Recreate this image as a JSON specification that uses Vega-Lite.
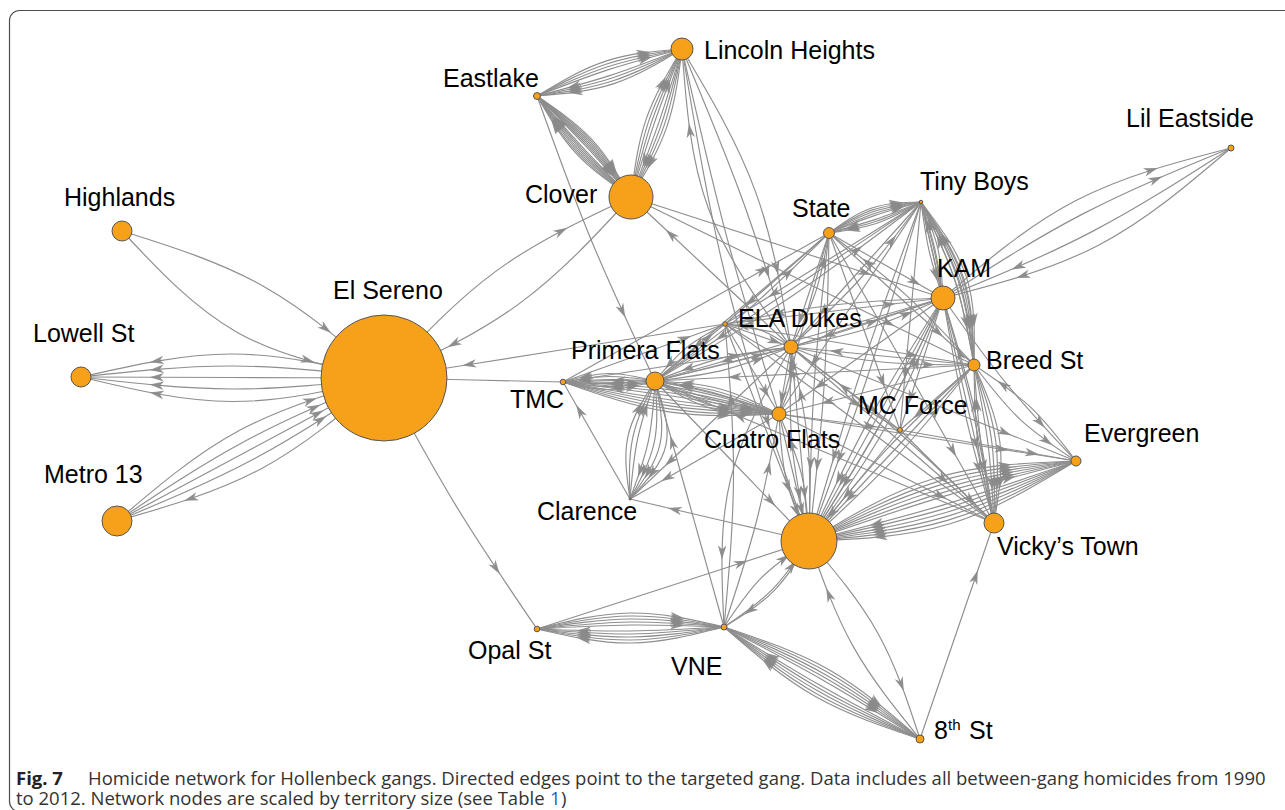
{
  "$schema": "https://vega.github.io/schema/vega-lite/v6.json",
  "width": 1285,
  "height": 810,
  "padding": 0,
  "autosize": {"type": "none"},
  "background": "white",
  "config": {"view": {"stroke": null}},
  "datasets": {
    "nodes": [
      {"id":"EL","x":384,"y":378,"area":3969},
      {"id":"BG","x":809,"y":541,"area":784},
      {"id":"CL","x":631,"y":197,"area":484},
      {"id":"ME","x":117,"y":521,"area":225},
      {"id":"KA","x":943,"y":298,"area":144},
      {"id":"LH","x":682,"y":49,"area":121},
      {"id":"HI","x":122,"y":231,"area":100},
      {"id":"LO","x":81,"y":377,"area":100},
      {"id":"VT","x":994,"y":523,"area":100},
      {"id":"PF","x":655,"y":381,"area":81},
      {"id":"ED","x":791,"y":347,"area":49},
      {"id":"CF","x":779,"y":414,"area":49},
      {"id":"BR","x":974,"y":365,"area":36},
      {"id":"ST","x":829,"y":233,"area":30},
      {"id":"EV","x":1076,"y":461,"area":25},
      {"id":"E8","x":920,"y":739,"area":16},
      {"id":"EA","x":537,"y":96,"area":12},
      {"id":"LE","x":1231,"y":148,"area":9},
      {"id":"TM","x":563,"y":382,"area":8},
      {"id":"VN","x":724,"y":627,"area":9},
      {"id":"OP","x":537,"y":629,"area":8},
      {"id":"MC","x":900,"y":430,"area":6},
      {"id":"U1","x":725,"y":324,"area":5},
      {"id":"TB","x":921,"y":202,"area":3},
      {"id":"CA","x":630,"y":499,"area":1}
    ],
    "labels": [
      {"label":"Lincoln Heights","lx":704,"ly":59},
      {"label":"Eastlake","lx":443,"ly":87},
      {"label":"Clover","lx":525,"ly":203},
      {"label":"Highlands","lx":64,"ly":206},
      {"label":"El Sereno","lx":333,"ly":299},
      {"label":"Lowell St","lx":33,"ly":342},
      {"label":"Metro 13","lx":44,"ly":483},
      {"label":"Lil Eastside","lx":1126,"ly":127},
      {"label":"Tiny Boys","lx":920,"ly":190},
      {"label":"State","lx":792,"ly":217},
      {"label":"KAM","lx":937,"ly":277},
      {"label":"ELA Dukes","lx":738,"ly":327},
      {"label":"Primera Flats","lx":571,"ly":359},
      {"label":"Breed St","lx":986,"ly":369},
      {"label":"TMC","lx":510,"ly":408},
      {"label":"MC Force","lx":858,"ly":414},
      {"label":"Cuatro Flats","lx":704,"ly":448},
      {"label":"Evergreen","lx":1084,"ly":442},
      {"label":"Clarence","lx":537,"ly":520},
      {"label":"Vicky’s Town","lx":997,"ly":555},
      {"label":"Opal St","lx":468,"ly":659},
      {"label":"VNE","lx":671,"ly":675},
      {"label":"8","lx":934,"ly":739},
      {"label":"St","lx":969,"ly":739}
    ],
    "edges": [
      {"s":"HI","t":"EL","o":-21},{"s":"HI","t":"EL","o":32},
      {"s":"EL","t":"LO","o":23.5},{"s":"EL","t":"LO","o":11.5},{"s":"EL","t":"LO","o":0},{"s":"EL","t":"LO","o":-11.5},{"s":"EL","t":"LO","o":-24},
      {"s":"ME","t":"EL","o":-22},{"s":"ME","t":"EL","o":-10},{"s":"ME","t":"EL","o":0},{"s":"ME","t":"EL","o":10},{"s":"EL","t":"ME","o":-22},
      {"s":"EL","t":"CL","o":-20},{"s":"CL","t":"EL","o":-20},
      {"s":"EL","t":"OP","o":5},{"s":"TM","t":"EL","o":0},{"s":"U1","t":"EL","o":0},
      {"s":"EA","t":"LH","o":-3},{"s":"EA","t":"LH","o":-6},{"s":"EA","t":"LH","o":-9},{"s":"EA","t":"LH","o":-12},
      {"s":"LH","t":"EA","o":-3},{"s":"LH","t":"EA","o":-6},{"s":"LH","t":"EA","o":-9},{"s":"LH","t":"EA","o":-12},
      {"s":"EA","t":"CL","o":-1.5},{"s":"EA","t":"CL","o":-3},{"s":"EA","t":"CL","o":-4.5},{"s":"EA","t":"CL","o":-6},{"s":"EA","t":"CL","o":-7.5},{"s":"EA","t":"CL","o":-9},{"s":"EA","t":"CL","o":-10.5},
      {"s":"CL","t":"EA","o":-1.5},{"s":"CL","t":"EA","o":-3},{"s":"CL","t":"EA","o":-4.5},{"s":"CL","t":"EA","o":-6},{"s":"CL","t":"EA","o":-7.5},{"s":"CL","t":"EA","o":-9},{"s":"CL","t":"EA","o":-10.5},
      {"s":"CL","t":"LH","o":-2},{"s":"CL","t":"LH","o":-5},{"s":"CL","t":"LH","o":-8},{"s":"CL","t":"LH","o":-11},
      {"s":"LH","t":"CL","o":-2},{"s":"LH","t":"CL","o":-5},{"s":"LH","t":"CL","o":-8},{"s":"LH","t":"CL","o":-11},
      {"s":"ED","t":"LH","o":-30},{"s":"LH","t":"ED","o":-5},{"s":"LH","t":"ED","o":-20},{"s":"LH","t":"CF","o":5},{"s":"LH","t":"BG","o":15},
      {"s":"EA","t":"PF","o":5},{"s":"CL","t":"KA","o":0},{"s":"CL","t":"BR","o":0},{"s":"ED","t":"CL","o":0},
      {"s":"KA","t":"LE","o":-10},{"s":"KA","t":"LE","o":-25},{"s":"LE","t":"KA","o":-10},{"s":"LE","t":"KA","o":-25},
      {"s":"ST","t":"TB","o":-2},{"s":"ST","t":"TB","o":-4},{"s":"ST","t":"TB","o":-6},{"s":"ST","t":"TB","o":-8},{"s":"ST","t":"TB","o":-10},
      {"s":"TB","t":"ST","o":-2},{"s":"TB","t":"ST","o":-4},{"s":"TB","t":"ST","o":-6},
      {"s":"TB","t":"KA","o":-3},{"s":"TB","t":"KA","o":0},{"s":"TB","t":"KA","o":3},{"s":"KA","t":"TB","o":2},{"s":"KA","t":"TB","o":6},
      {"s":"TB","t":"BR","o":-8},{"s":"TB","t":"BR","o":-11},{"s":"TB","t":"BR","o":-14},{"s":"TB","t":"BR","o":-17},{"s":"TB","t":"BR","o":-20},
      {"s":"BR","t":"TB","o":8},{"s":"BR","t":"TB","o":12},{"s":"BR","t":"TB","o":16},
      {"s":"ST","t":"PF","o":0},{"s":"PF","t":"ST","o":6},{"s":"ST","t":"U1","o":0},{"s":"ST","t":"ED","o":0},{"s":"ED","t":"ST","o":6},{"s":"ST","t":"CF","o":0},
      {"s":"ST","t":"BG","o":5},{"s":"ST","t":"BG","o":-5},{"s":"ST","t":"KA","o":0},{"s":"ST","t":"BR","o":0},{"s":"BR","t":"ST","o":6},{"s":"ST","t":"MC","o":0},{"s":"ST","t":"VT","o":0},
      {"s":"TB","t":"ED","o":0},{"s":"TB","t":"CF","o":0},{"s":"TB","t":"BG","o":4},{"s":"TB","t":"BG","o":-4},{"s":"TB","t":"MC","o":0},{"s":"TB","t":"PF","o":0},{"s":"TB","t":"U1","o":0},{"s":"TB","t":"VT","o":0},{"s":"ED","t":"TB","o":6},{"s":"PF","t":"TB","o":6},
      {"s":"KA","t":"BG","o":0},{"s":"KA","t":"BG","o":6},{"s":"KA","t":"BG","o":-6},{"s":"BG","t":"KA","o":6},{"s":"BG","t":"KA","o":12},{"s":"KA","t":"ED","o":0},{"s":"ED","t":"KA","o":6},{"s":"KA","t":"CF","o":0},
      {"s":"KA","t":"VT","o":4},{"s":"KA","t":"VT","o":-4},{"s":"VT","t":"KA","o":6},{"s":"KA","t":"MC","o":0},{"s":"KA","t":"EV","o":5},{"s":"KA","t":"PF","o":0},{"s":"PF","t":"KA","o":5},{"s":"U1","t":"KA","o":0},{"s":"KA","t":"U1","o":6},
      {"s":"BR","t":"BG","o":0},{"s":"BR","t":"BG","o":6},{"s":"BG","t":"BR","o":6},{"s":"BR","t":"ED","o":0},{"s":"ED","t":"BR","o":6},{"s":"BR","t":"PF","o":0},{"s":"BR","t":"CF","o":0},{"s":"BR","t":"MC","o":0},{"s":"U1","t":"BR","o":0},{"s":"BR","t":"EV","o":8},{"s":"EV","t":"BR","o":8},
      {"s":"BR","t":"VT","o":-4},{"s":"BR","t":"VT","o":-8},{"s":"BR","t":"VT","o":-12},{"s":"BR","t":"VT","o":-16},{"s":"VT","t":"BR","o":-3},{"s":"VT","t":"BR","o":-6},
      {"s":"BG","t":"EV","o":-4},{"s":"BG","t":"EV","o":-8},{"s":"BG","t":"EV","o":-12},{"s":"BG","t":"EV","o":-16},{"s":"BG","t":"EV","o":-20},{"s":"BG","t":"EV","o":-24},
      {"s":"EV","t":"BG","o":-4},{"s":"EV","t":"BG","o":-8},{"s":"EV","t":"BG","o":-12},{"s":"EV","t":"BG","o":-16},{"s":"EV","t":"BG","o":-20},{"s":"EV","t":"BG","o":-24},
      {"s":"MC","t":"EV","o":0},{"s":"MC","t":"VT","o":0},{"s":"U1","t":"MC","o":0},{"s":"ED","t":"MC","o":0},{"s":"CF","t":"MC","o":0},{"s":"MC","t":"BG","o":0},
      {"s":"U1","t":"ED","o":0},{"s":"ED","t":"U1","o":6},{"s":"U1","t":"CF","o":0},{"s":"U1","t":"BG","o":0},{"s":"PF","t":"U1","o":0},{"s":"U1","t":"PF","o":6},{"s":"TM","t":"U1","o":0},{"s":"TM","t":"ED","o":0},{"s":"TM","t":"ST","o":0},
      {"s":"ED","t":"CF","o":0},{"s":"CF","t":"ED","o":6},{"s":"ED","t":"BG","o":0},{"s":"ED","t":"BG","o":8},{"s":"BG","t":"ED","o":8},{"s":"ED","t":"VT","o":0},{"s":"VT","t":"ED","o":6},{"s":"ED","t":"EV","o":0},
      {"s":"CF","t":"BG","o":0},{"s":"CF","t":"BG","o":8},{"s":"BG","t":"CF","o":8},{"s":"CF","t":"VT","o":0},{"s":"CF","t":"EV","o":0},{"s":"PF","t":"ED","o":0},{"s":"PF","t":"ED","o":6},{"s":"ED","t":"PF","o":6},{"s":"VT","t":"U1","o":0},{"s":"VT","t":"PF","o":0},
      {"s":"VN","t":"E8","o":-3},{"s":"VN","t":"E8","o":-6},{"s":"VN","t":"E8","o":-9},{"s":"VN","t":"E8","o":-12},{"s":"VN","t":"E8","o":-15},
      {"s":"E8","t":"VN","o":-3},{"s":"E8","t":"VN","o":-6},{"s":"E8","t":"VN","o":-9},{"s":"E8","t":"VN","o":-12},{"s":"E8","t":"VN","o":-15},
      {"s":"OP","t":"VN","o":-3},{"s":"OP","t":"VN","o":-6},{"s":"OP","t":"VN","o":-9},{"s":"OP","t":"VN","o":-12},{"s":"OP","t":"VN","o":-15},
      {"s":"VN","t":"OP","o":-3},{"s":"VN","t":"OP","o":-6},{"s":"VN","t":"OP","o":-9},{"s":"VN","t":"OP","o":-12},{"s":"VN","t":"OP","o":-15},
      {"s":"OP","t":"BG","o":0},{"s":"BG","t":"E8","o":-15},{"s":"E8","t":"BG","o":-13},{"s":"E8","t":"VT","o":0},{"s":"VN","t":"BG","o":-8},{"s":"VN","t":"BG","o":8},{"s":"BG","t":"VN","o":-10},{"s":"ED","t":"VN","o":28},{"s":"VN","t":"PF","o":0},{"s":"VN","t":"U1","o":9},{"s":"VN","t":"CF","o":5},
      {"s":"PF","t":"CA","o":-6},{"s":"PF","t":"CA","o":-12},{"s":"PF","t":"CA","o":-18},{"s":"PF","t":"CA","o":-24},{"s":"CA","t":"PF","o":-5},{"s":"CA","t":"PF","o":-10},{"s":"CA","t":"PF","o":-15},
      {"s":"CA","t":"TM","o":0},{"s":"CF","t":"CA","o":0},{"s":"ED","t":"CA","o":0},{"s":"BG","t":"CA","o":0},
      {"s":"TM","t":"CF","o":2},{"s":"TM","t":"CF","o":5},{"s":"TM","t":"CF","o":8},{"s":"TM","t":"CF","o":11},{"s":"TM","t":"CF","o":14},
      {"s":"CF","t":"TM","o":2},{"s":"CF","t":"TM","o":5},{"s":"CF","t":"TM","o":8},{"s":"CF","t":"TM","o":11},{"s":"CF","t":"TM","o":14},
      {"s":"TM","t":"PF","o":2},{"s":"TM","t":"PF","o":5},{"s":"TM","t":"PF","o":8},{"s":"PF","t":"TM","o":2},{"s":"PF","t":"TM","o":5},{"s":"PF","t":"TM","o":8},
      {"s":"PF","t":"CF","o":3},{"s":"PF","t":"CF","o":6},{"s":"PF","t":"CF","o":9},{"s":"PF","t":"CF","o":12},{"s":"CF","t":"PF","o":3},{"s":"CF","t":"PF","o":6},{"s":"CF","t":"PF","o":9},
      {"s":"PF","t":"BG","o":0}
    ]
  },
  "layer": [
    {
      "data": {"values": [{"x0": 9.5, "y0": 10.5, "x1": 1330, "y1": 811.5}]},
      "mark": {"type": "rect", "fill": "transparent", "stroke": "#4d4d4d", "strokeWidth": 1.2, "cornerRadius": 10, "clip": true},
      "encoding": {
        "x": {"field": "x0", "type": "quantitative", "scale": {"domain": [0, 1285], "nice": false, "zero": false}, "axis": null},
        "x2": {"field": "x1"},
        "y": {"field": "y0", "type": "quantitative", "scale": {"domain": [0, 810], "nice": false, "zero": false, "reverse": true}, "axis": null},
        "y2": {"field": "y1"}
      }
    },
    {
      "data": {"name": "edges"},
      "transform": [
        {"lookup": "s", "from": {"data": {"name": "nodes"}, "key": "id", "fields": ["x", "y"]}, "as": ["sx", "sy"]},
        {"lookup": "t", "from": {"data": {"name": "nodes"}, "key": "id", "fields": ["x", "y"]}, "as": ["tx", "ty"]},
        {"calculate": "sqrt(pow(datum.tx-datum.sx,2)+pow(datum.ty-datum.sy,2))", "as": "L"},
        {"calculate": "(datum.sx+datum.tx)/2 - datum.o*(datum.ty-datum.sy)/datum.L", "as": "mx"},
        {"calculate": "(datum.sy+datum.ty)/2 + datum.o*(datum.tx-datum.sx)/datum.L", "as": "my"},
        {"window": [{"op": "row_number", "as": "eid"}]},
        {"calculate": "[datum.sx, datum.mx, datum.tx]", "as": "px"},
        {"calculate": "[datum.sy, datum.my, datum.ty]", "as": "py"},
        {"calculate": "[0, 1, 2]", "as": "pk"},
        {"flatten": ["px", "py", "pk"]}
      ],
      "mark": {"type": "line", "interpolate": "natural", "stroke": "#8e8e8e", "strokeWidth": 1.15},
      "encoding": {
        "x": {"field": "px", "type": "quantitative", "scale": {"domain": [0, 1285], "nice": false, "zero": false}, "axis": null},
        "y": {"field": "py", "type": "quantitative", "scale": {"domain": [0, 810], "nice": false, "zero": false, "reverse": true}, "axis": null},
        "detail": {"field": "eid", "type": "nominal"},
        "order": {"field": "pk", "type": "quantitative"}
      }
    },
    {
      "data": {"name": "edges"},
      "transform": [
        {"lookup": "s", "from": {"data": {"name": "nodes"}, "key": "id", "fields": ["x", "y"]}, "as": ["sx", "sy"]},
        {"lookup": "t", "from": {"data": {"name": "nodes"}, "key": "id", "fields": ["x", "y"]}, "as": ["tx", "ty"]},
        {"calculate": "sqrt(pow(datum.tx-datum.sx,2)+pow(datum.ty-datum.sy,2))", "as": "L"},
        {"calculate": "- datum.o*(datum.ty-datum.sy)/datum.L", "as": "ox"},
        {"calculate": "datum.o*(datum.tx-datum.sx)/datum.L", "as": "oy"},
        {"calculate": "datum.sx + 0.75*(datum.tx-datum.sx) + 0.6875*datum.ox", "as": "ax"},
        {"calculate": "datum.sy + 0.75*(datum.ty-datum.sy) + 0.6875*datum.oy", "as": "ay"},
        {"calculate": "atan2(0.5*(datum.tx-datum.sx) - 1.125*datum.ox, -(0.5*(datum.ty-datum.sy) - 1.125*datum.oy))*180/PI", "as": "ang"}
      ],
      "mark": {"type": "point", "shape": "M0,-1L0.6,1L0,0.45L-0.6,1Z", "filled": true, "fill": "#8a8a8a", "strokeWidth": 0, "size": 200, "opacity": 0.95},
      "encoding": {
        "x": {"field": "ax", "type": "quantitative", "scale": {"domain": [0, 1285], "nice": false, "zero": false}, "axis": null},
        "y": {"field": "ay", "type": "quantitative", "scale": {"domain": [0, 810], "nice": false, "zero": false, "reverse": true}, "axis": null},
        "angle": {"field": "ang", "type": "quantitative", "scale": null}
      }
    },
    {
      "data": {"name": "nodes"},
      "mark": {"type": "circle", "fill": "#F7A11A", "stroke": "#555555", "strokeWidth": 1, "opacity": 1},
      "encoding": {
        "x": {"field": "x", "type": "quantitative", "scale": {"domain": [0, 1285], "nice": false, "zero": false}, "axis": null},
        "y": {"field": "y", "type": "quantitative", "scale": {"domain": [0, 810], "nice": false, "zero": false, "reverse": true}, "axis": null},
        "size": {"field": "area", "type": "quantitative", "scale": {"type": "linear", "domain": [0, 4000], "range": [0, 16000]}, "legend": null}
      }
    },
    {
      "data": {"name": "labels"},
      "mark": {"type": "text", "align": "left", "baseline": "alphabetic", "font": "Liberation Sans", "fontSize": 25, "fill": "#000000"},
      "encoding": {
        "x": {"field": "lx", "type": "quantitative", "scale": {"domain": [0, 1285], "nice": false, "zero": false}, "axis": null},
        "y": {"field": "ly", "type": "quantitative", "scale": {"domain": [0, 810], "nice": false, "zero": false, "reverse": true}, "axis": null},
        "text": {"field": "label"}
      }
    },
    {
      "data": {"values": [{"label": "th", "lx": 948, "ly": 730}]},
      "mark": {"type": "text", "align": "left", "baseline": "alphabetic", "font": "Liberation Sans", "fontSize": 15, "fill": "#000000"},
      "encoding": {
        "x": {"field": "lx", "type": "quantitative", "scale": {"domain": [0, 1285], "nice": false, "zero": false}, "axis": null},
        "y": {"field": "ly", "type": "quantitative", "scale": {"domain": [0, 810], "nice": false, "zero": false, "reverse": true}, "axis": null},
        "text": {"field": "label"}
      }
    },
    {
      "data": {"values": [{"t": "Fig. 7", "cx": 16, "cy": 785}]},
      "mark": {"type": "text", "align": "left", "baseline": "alphabetic", "font": "Open Sans", "fontSize": 18.5, "fontWeight": "bold", "fill": "#222222"},
      "encoding": {
        "x": {"field": "cx", "type": "quantitative", "scale": {"domain": [0, 1285], "nice": false, "zero": false}, "axis": null},
        "y": {"field": "cy", "type": "quantitative", "scale": {"domain": [0, 810], "nice": false, "zero": false, "reverse": true}, "axis": null},
        "text": {"field": "t"}
      }
    },
    {
      "data": {"values": [
        {"t": "Homicide network for Hollenbeck gangs. Directed edges point to the targeted gang. Data includes all between-gang homicides from 1990", "cx": 88, "cy": 785},
        {"t": "to 2012. Network nodes are scaled by territory size (see Table", "cx": 16, "cy": 805},
        {"t": ")", "cx": 561, "cy": 805}
      ]},
      "mark": {"type": "text", "align": "left", "baseline": "alphabetic", "font": "Open Sans", "fontSize": 18.5, "fill": "#333333"},
      "encoding": {
        "x": {"field": "cx", "type": "quantitative", "scale": {"domain": [0, 1285], "nice": false, "zero": false}, "axis": null},
        "y": {"field": "cy", "type": "quantitative", "scale": {"domain": [0, 810], "nice": false, "zero": false, "reverse": true}, "axis": null},
        "text": {"field": "t"}
      }
    },
    {
      "data": {"values": [{"t": "1", "cx": 550, "cy": 805}]},
      "mark": {"type": "text", "align": "left", "baseline": "alphabetic", "font": "Open Sans", "fontSize": 18.5, "fill": "#1f5fbf"},
      "encoding": {
        "x": {"field": "cx", "type": "quantitative", "scale": {"domain": [0, 1285], "nice": false, "zero": false}, "axis": null},
        "y": {"field": "cy", "type": "quantitative", "scale": {"domain": [0, 810], "nice": false, "zero": false, "reverse": true}, "axis": null},
        "text": {"field": "t"}
      }
    }
  ]
}
